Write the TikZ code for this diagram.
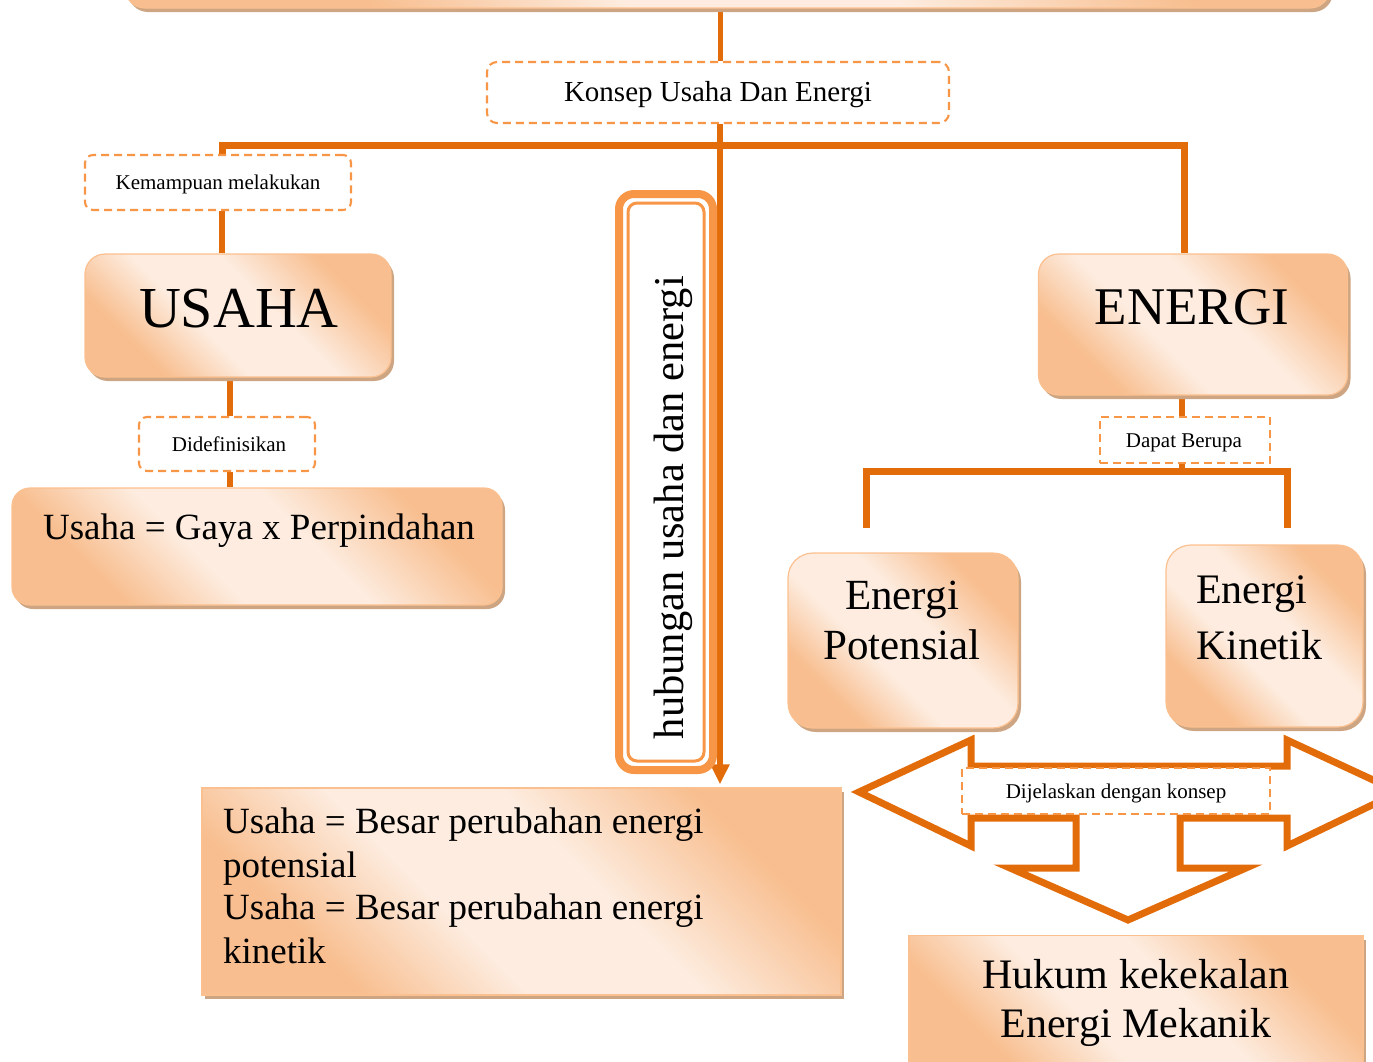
\documentclass[tikz,border=0pt]{standalone}
\usepackage{fontspec}
\setmainfont{Liberation Serif}
\usetikzlibrary{shadows,arrows.meta,calc}
\definecolor{pdark}{RGB}{248,190,143}
\definecolor{plight}{RGB}{253,236,223}
\definecolor{pborder}{RGB}{250,192,143}
\definecolor{shadowc}{RGB}{205,165,130}
\definecolor{lineo}{RGB}{227,108,10}
\definecolor{dasho}{RGB}{247,150,70}
\pgfdeclarehorizontalshading{peachband}{100bp}{color(0bp)=(pdark); color(28bp)=(pdark); color(42bp)=(plight); color(57bp)=(plight); color(73bp)=(pdark); color(100bp)=(pdark)}
\pgfdeclarelayer{bg}
\pgfsetlayers{bg,main}
\newcommand\fsz[1]{\fontsize{#1}{#1}\selectfont}
\begin{document}
\begin{tikzpicture}[x=1pt,y=-1pt,
  gbox/.style={draw=pborder, line width=1.2pt, shading=peachband, shading angle=45, rounded corners=20pt, inner sep=0pt,
     drop shadow={shadow xshift=3pt, shadow yshift=-4pt, fill=shadowc, opacity=1}},
  dbox/.style={draw=dasho, line width=2.1pt, dash pattern=on 8pt off 5pt, fill=white, rounded corners=8pt, inner sep=0pt},
  txt/.style={inner sep=0pt, text=black},
  conn/.style={draw=lineo, line width=6pt}]
\useasboundingbox (0,0) rectangle (1373,1061);
\coordinate (mx) at (720,0);
\coordinate (hL) at (222,145);
\coordinate (hR) at (1184,145);
\coordinate (cx) at (230,0);
\coordinate (ex) at (1182,0);
\coordinate (dL) at (866,471);
\coordinate (dR) at (1287,471);
\coordinate (dLe) at (866,528);
\coordinate (dRe) at (1287,528);

% boxes
\node[gbox, minimum width=1205pt, minimum height=100pt] (topbox) at (727.5,-42) {};
\node[dbox, rounded corners=10pt, minimum width=462pt, minimum height=61pt] (konsep) at (718,92.5) {};
\node[txt, font=\fsz{29}, anchor=base] (konsepT) at (718,101) {Konsep Usaha Dan Energi};

\node[dbox, minimum width=266pt, minimum height=55pt] (kem) at (218,182.5) {};
\node[txt, font=\fsz{21}, anchor=base] (kemT) at (218,189) {Kemampuan melakukan};

\node[gbox, minimum width=306pt, minimum height=123pt] (usaha) at (238,315.5) {};
\node[txt, font=\fsz{58}, anchor=base] (usahaT) at (239,327) {USAHA};

\node[dbox, minimum width=176pt, minimum height=54pt] (didef) at (227,444) {};
\node[txt, font=\fsz{21}, anchor=base] (didefT) at (229,451) {Didefinisikan};

\node[gbox, rounded corners=18pt, minimum width=490pt, minimum height=117pt] (gaya) at (257,546.5) {};
\node[txt, font=\fsz{37}, anchor=base] (gayaT) at (259,539) {Usaha = Gaya x Perpindahan};

\node[draw=dasho, line width=8pt, outer sep=0pt, rounded corners=15pt, fill=white, minimum width=94pt, minimum height=576pt, inner sep=0pt] (hub) at (666,482) {};
\draw[dasho, line width=3pt, rounded corners=9pt] ($(hub.south west)+(9,-9)$) rectangle ($(hub.north east)+(-9,9)$);
\node[txt, font=\fsz{42.5}, rotate=90, anchor=base] (hubT) at (683,507.5) {hubungan usaha dan energi};

\node[gbox, rounded corners=0pt, minimum width=639pt, minimum height=207pt] (bl) at (521.5,891.5) {};
\node[txt, font=\fsz{37}, anchor=base west] (bl1) at (223,833) {Usaha = Besar perubahan energi};
\node[txt, font=\fsz{37}, anchor=base west] (bl2) at (223,877) {potensial};
\node[txt, font=\fsz{37}, anchor=base west] (bl3) at (223,919) {Usaha = Besar perubahan energi};
\node[txt, font=\fsz{37}, anchor=base west] (bl4) at (223,963) {kinetik};

\node[gbox, minimum width=309pt, minimum height=141pt] (energi) at (1193,324.5) {};
\node[txt, font=\fsz{53}, anchor=base] (energiT) at (1192,324) {ENERGI};

\node[dbox, rounded corners=0pt, minimum width=170pt, minimum height=46pt] (dapat) at (1185,440) {};
\node[txt, font=\fsz{21}, anchor=base] (dapatT) at (1184,447) {Dapat Berupa};

\node[gbox, rounded corners=25pt, minimum width=230pt, minimum height=175pt] (ep) at (903,640.5) {};
\node[txt, font=\fsz{43}, anchor=base] (ep1) at (902,609) {Energi};
\node[txt, font=\fsz{43}, anchor=base] (ep2) at (902,659) {Potensial};

\node[gbox, rounded corners=25pt, minimum width=197pt, minimum height=182pt] (ek) at (1264.5,636) {};
\node[txt, font=\fsz{42}, anchor=base west] (ek1) at (1196,603) {Energi};
\node[txt, font=\fsz{42}, anchor=base west] (ek2) at (1196,659) {Kinetik};

\node[gbox, rounded corners=0pt, minimum width=454pt, minimum height=139pt] (hukum) at (1136,1005) {};
\node[txt, font=\fsz{42}, anchor=base] (huk1) at (1136,988) {Hukum kekekalan};
\node[txt, font=\fsz{42}, anchor=base] (huk2) at (1136,1037) {Energi Mekanik};

\node[dbox, rounded corners=0pt, minimum width=308pt, minimum height=46pt] (dij) at (1116,791) {};
\node[txt, font=\fsz{21}, anchor=base] (dijT) at (1116,798) {Dijelaskan dengan konsep};

% connectors
\begin{pgfonlayer}{bg}
\draw[conn, line width=5pt] (topbox.south -| mx) -- (konsep.north -| mx);
\draw[conn, -{Triangle[length=20pt,width=18pt]}] (konsep.south -| mx) -- ($(bl.north -| mx)+(0,-3)$);
\draw[conn, line width=7pt] (kem.north -| hL) -- (hL) -- (hR) -- (energi.north -| hR);
\draw[conn] (kem.south -| hL) -- (usaha.north -| hL);
\draw[conn] (usaha.south -| cx) -- (didef.north -| cx);
\draw[conn] (didef.south -| cx) -- (gaya.north -| cx);
\draw[conn] (energi.south -| ex) -- (dapat.north -| ex);
\draw[conn] (dapat.south -| ex) -- (ex |- dL);
\draw[conn, line width=7pt] (dLe) -- (dL) -- (dR) -- (dRe);
% triple arrow
\draw[lineo, line width=7pt, fill=white, line join=miter]
  (859,792) -- (971,740) -- (971,766) -- (1287,766) -- (1287,740) -- (1399,792)
  -- (1287,846) -- (1287,818) -- (1180,818) -- (1180,868) -- (1246,868)
  -- (1128,920) -- (1010,868) -- (1076,868) -- (1076,818) -- (971,818)
  -- (971,846) -- cycle;
\end{pgfonlayer}
\end{tikzpicture}
\end{document}
